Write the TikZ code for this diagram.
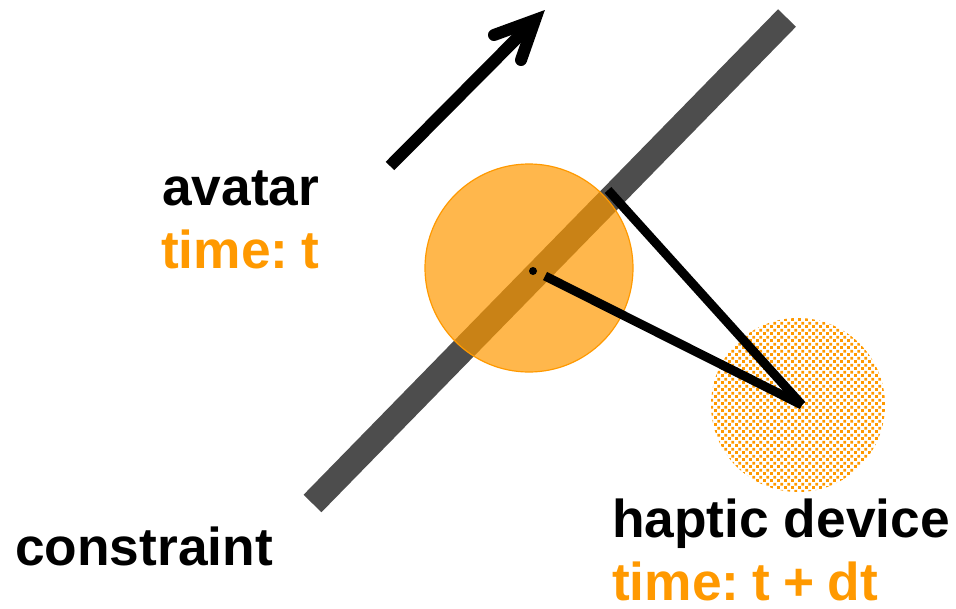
\documentclass[tikz,border=0pt]{standalone}
\usepackage{fontspec}
\setmainfont{Liberation Sans}
\usetikzlibrary{patterns.meta}
\definecolor{orng}{HTML}{FF9900}
\definecolor{bargray}{HTML}{4D4D4D}
\tikzdeclarepattern{
  name=hapticdots, type=uncolored,
  bounding box={(0pt,0pt) and (7pt,7pt)},
  tile size={(7pt,7pt)},
  code={\fill (0.2pt,0.2pt) rectangle (3.4pt,3.4pt);
        \fill (3.7pt,3.7pt) rectangle (6.9pt,6.9pt);}
}
\newcommand{\tsp}{\hspace{0.17em}}
\newcommand{\msp}{\hspace{0.245em}}
\tikzset{
  lbl/.style={anchor=base west, inner sep=0pt, text depth=0pt, font=\fontsize{53.3}{60}\selectfont\bfseries},
  lblblack/.style={lbl, text=black},
  lblorange/.style={lbl, text=orng},
  conn/.style={line width=9pt, black},
}
\begin{document}
\begin{tikzpicture}[x=1pt,y=-1pt]
\useasboundingbox (0,0) rectangle (956,608);
% haptic device circle
\node[circle, minimum size=174pt, inner sep=0pt, pattern={hapticdots}, pattern color=orng] (hap) at (798,405) {};
% constraint bar
\coordinate (barA) at (312.5,503.5);
\coordinate (barB) at (787,18);
\draw[bargray, line width=25pt] (barA) -- (barB);
% avatar circle
\node[circle, minimum size=208pt, inner sep=0pt, fill=orng, fill opacity=0.7, draw=orng, line width=1.2pt] (av) at (529,268) {};
% centre dot
\fill[black] (533,271) circle (4pt);
% connectors
\coordinate (hc) at (802,405);
\coordinate (c1) at (545,276);
\coordinate (c2) at (608,190);
\draw[conn] (c1) -- (hc);
\draw[conn, line join=miter] (c2) -- (hc);
% motion arrow
\coordinate (arS) at (390,166);
\coordinate (arT) at (535,20);
\coordinate (arL) at (494,35);
\coordinate (arR) at (521,60);
\draw[black, line width=12pt] (arS) -- (arT);
\draw[black, line width=12pt, line cap=round, line join=miter] (arL) -- (arT) -- (arR);
% labels
\node[lblblack] (avatar) at (162,205) {avatar};
\node[lblorange] (timet) at (161,268) {time:\msp t};
\node[lblblack] (haptic) at (612,537) {haptic device};
\node[lblorange] (timedt) at (612,600) {time:\msp t\msp+\msp dt};
\node[lblblack] (constraint) at (15,565) {constraint};
\end{tikzpicture}
\end{document}
